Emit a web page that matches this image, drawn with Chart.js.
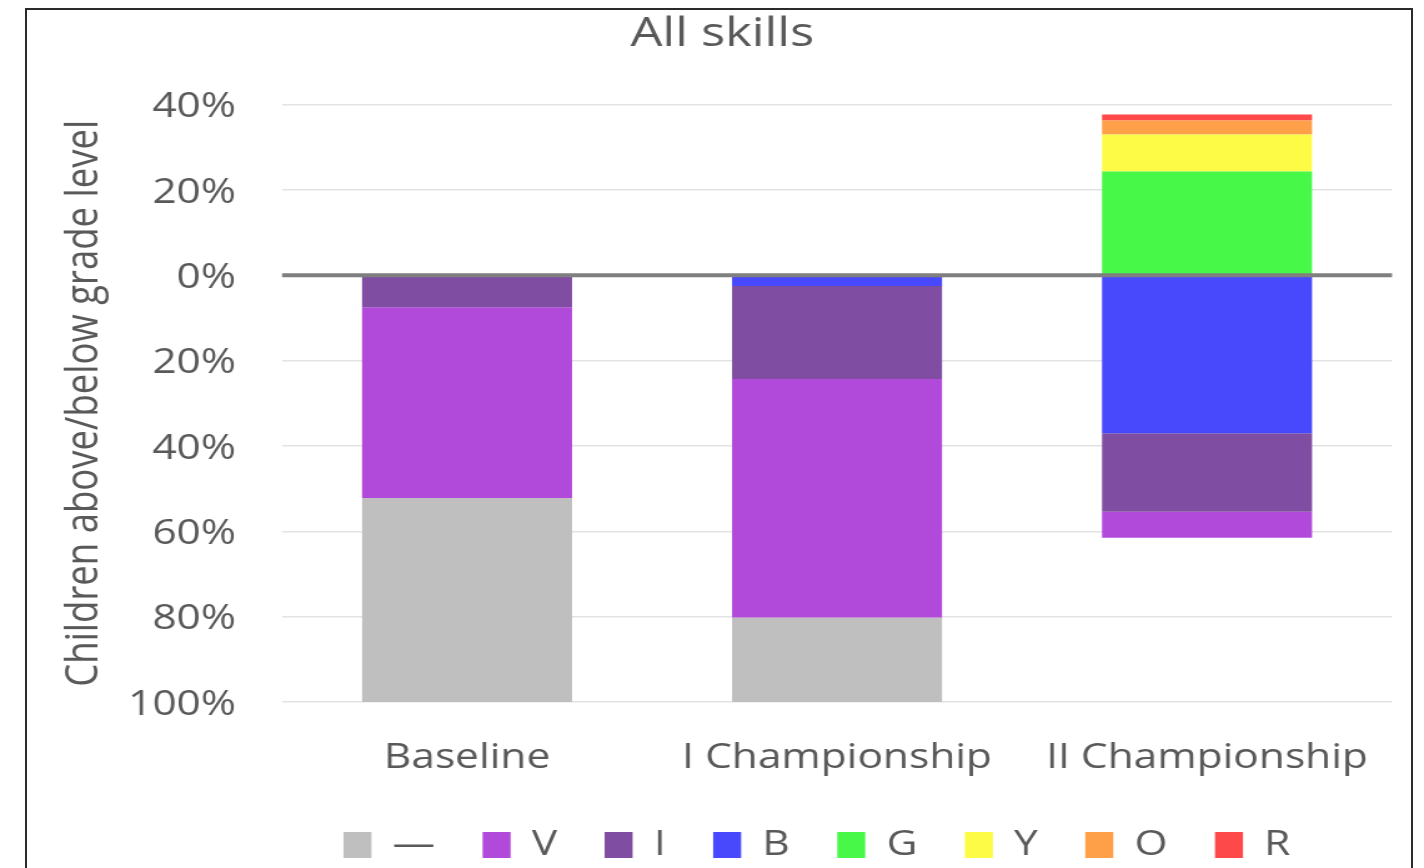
<!DOCTYPE html>
<html>
<head>
<meta charset="utf-8">
<script src="https://cdn.jsdelivr.net/npm/chart.js@4.4.0/dist/chart.umd.min.js"></script>
<style>
  html, body { margin: 0; padding: 0; background: #ffffff; overflow: hidden; }
  #wrap { position: relative; width: 1424px; height: 868px; overflow: hidden; }
  #c { position: absolute; left: 0; top: 0; width: 1424px; height: 868px; }
  #frame { position: absolute; left: 25px; top: 8px; width: 1384px; height: 900px; border: 2px solid #2a2a2a; pointer-events: none; }
</style>
</head>
<body>
<div id="wrap">
  <canvas id="c" width="1140" height="868" style="width:1424px;height:868px;"></canvas>
  <div id="frame"></div>
</div>
<script>
// ---- data ----
const chartTitle = 'All skills';
const yAxisTitle = 'Children above/below grade level';
const categories = ['Baseline', 'I Championship', 'II Championship'];
const yTickMin = -100;
const yTickMax = 40;
const yTickStep = 20;

// negative = below grade level, positive = above grade level (percent of children)
const grayVals = [-47.8, -19.8, 0];
const vVals    = [-44.7, -55.9, -6.1];
const iVals    = [-7.5, -21.8, -18.4];
const bVals    = [0, -2.5, -37.0];
const gVals    = [0, 0, 24.3];
const yVals    = [0, 0, 8.7];
const oVals    = [0, 0, 3.3];
const rVals    = [0, 0, 1.4];

const legendOrder = ['\u2014', 'V', 'I', 'B', 'G', 'Y', 'O', 'R'];

const colGray = '#bfbfbf';
const colV = '#b14adb';
const colI = '#7f4ea3';
const colB = '#4848fd';
const colG = '#48f848';
const colY = '#fefb46';
const colO = '#fea047';
const colR = '#fd4949';

const textColor = '#595959';
const FONT = "'Open Sans', 'DejaVu Sans', sans-serif";

const LEGEND_PAD = 38;

// stacking order: first dataset sits next to the zero line
const datasets = [
  { label: 'B', data: bVals, backgroundColor: colB },
  { label: 'G', data: gVals, backgroundColor: colG },
  { label: 'I', data: iVals, backgroundColor: colI },
  { label: 'Y', data: yVals, backgroundColor: colY },
  { label: 'V', data: vVals, backgroundColor: colV },
  { label: 'O', data: oVals, backgroundColor: colO },
  { label: '\u2014', data: grayVals, backgroundColor: colGray },
  { label: 'R', data: rVals, backgroundColor: colR }
].map(d => Object.assign(d, {
  borderWidth: 0,
  categoryPercentage: 1.0,
  barPercentage: 0.5676
}));

const zeroLine = {
  id: 'zeroLine',
  afterDatasetsDraw(chart) {
    const y = chart.scales.y.getPixelForValue(0);
    const ctx = chart.ctx;
    ctx.save();
    ctx.strokeStyle = '#7f7f7f';
    ctx.lineWidth = 4;
    ctx.beginPath();
    ctx.moveTo(chart.chartArea.left, y);
    ctx.lineTo(chart.chartArea.right, y);
    ctx.stroke();
    ctx.restore();
  }
};

// move the legend so its row is centred where the reference has it
const legendShift = {
  id: 'legendShift',
  afterLayout(chart) {
    const lg = chart.legend;
    if (!lg) return;
    const dx = 654 - (lg.left + lg.right) / 2;
    lg.left += dx;
    lg.right += dx;
  }
};

new Chart(document.getElementById('c'), {
  type: 'bar',
  data: { labels: categories, datasets: datasets },
  plugins: [zeroLine, legendShift],
  options: {
    responsive: false,
    animation: false,
    devicePixelRatio: 1,
    layout: { padding: { left: 42, right: 25.6, top: 0, bottom: -4 } },
    plugins: {
      title: {
        display: true,
        text: chartTitle,
        color: textColor,
        font: { family: FONT, size: 40.5, weight: 'normal', lineHeight: 1.2 },
        padding: { top: 10, bottom: 46 }
      },
      legend: {
        display: true,
        position: 'bottom',
        labels: {
          color: textColor,
          font: { family: FONT, size: 34, lineHeight: 1.2 },
          boxWidth: 22.4,
          boxHeight: 26,
          padding: LEGEND_PAD,
          sort: (a, b) => legendOrder.indexOf(a.text) - legendOrder.indexOf(b.text)
        }
      },
      tooltip: { enabled: false }
    },
    scales: {
      x: {
        stacked: true,
        grid: { display: false, drawTicks: false },
        border: { display: false },
        ticks: {
          color: textColor,
          font: { family: FONT, size: 34, lineHeight: 1.2 },
          padding: 35.5,
          maxRotation: 0,
          autoSkip: false
        },
        afterFit(scale) { scale.height = 872 - (44 + LEGEND_PAD) - 702; }
      },
      y: {
        stacked: true,
        min: yTickMin,
        max: yTickMax,
        grid: { color: '#e3e3e3', lineWidth: 1.5, drawTicks: false },
        border: { display: false },
        ticks: {
          stepSize: yTickStep,
          color: textColor,
          font: { family: FONT, size: 34, lineHeight: 1.2 },
          padding: 36.9,
          labelOffset: 3,
          callback: v => Math.abs(v) + '%'
        },
        title: {
          display: true,
          text: yAxisTitle,
          color: textColor,
          font: { family: FONT, size: 36.5, lineHeight: 1.2 },
          padding: { top: 4, bottom: 4 }
        },
        afterFit(scale) { scale.width = 225.8 - 42; }
      }
    }
  }
});
</script>
</body>
</html>
